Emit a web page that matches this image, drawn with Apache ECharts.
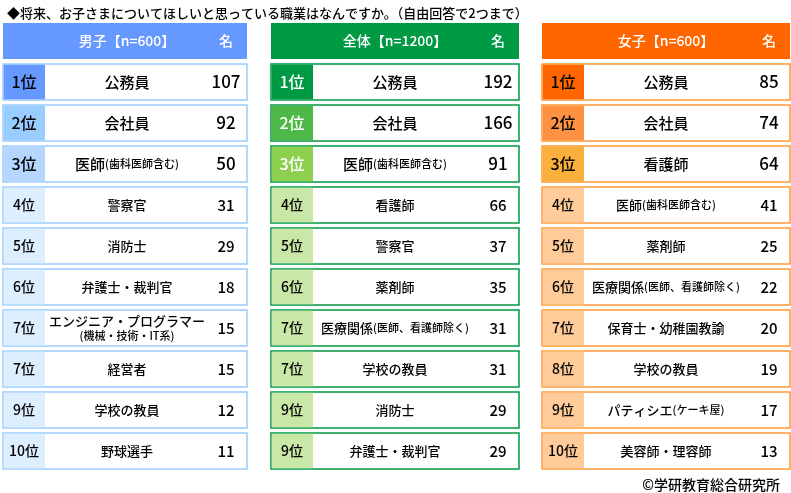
<!DOCTYPE html>
<html>
<head>
<meta charset="utf-8">
<script src="https://cdn.jsdelivr.net/npm/echarts@6/dist/echarts.min.js"></script>
<style>
html, body { margin: 0; padding: 0; background: #fff; }
#main { width: 791px; height: 493px; }
</style>
</head>
<body>
<div id="main"></div>
<script>
// table contents
var titleText = '◆将来、お子さまについてほしいと思っている職業はなんですか。（自由回答で2つまで）';
var creditText = '©学研教育総合研究所';
var unitLabel = '名';
var headers = ['男子【n=600】', '全体【n=1200】', '女子【n=600】'];

var boysRanks = ['1位', '2位', '3位', '4位', '5位', '6位', '7位', '7位', '9位', '10位'];
var boysJobs = ['公務員', '会社員', '医師(歯科医師含む)', '警察官', '消防士', '弁護士・裁判官',
    'エンジニア・プログラマー\n(機械・技術・IT系)', '経営者', '学校の教員', '野球選手'];
var boysCounts = [107, 92, 50, 31, 29, 18, 15, 15, 12, 11];

var totalRanks = ['1位', '2位', '3位', '4位', '5位', '6位', '7位', '7位', '9位', '9位'];
var totalJobs = ['公務員', '会社員', '医師(歯科医師含む)', '看護師', '警察官', '薬剤師',
    '医療関係(医師、看護師除く)', '学校の教員', '消防士', '弁護士・裁判官'];
var totalCounts = [192, 166, 91, 66, 37, 35, 31, 31, 29, 29];

var girlsRanks = ['1位', '2位', '3位', '4位', '5位', '6位', '7位', '8位', '9位', '10位'];
var girlsJobs = ['公務員', '会社員', '看護師', '医師(歯科医師含む)', '薬剤師',
    '医療関係(医師、看護師除く)', '保育士・幼稚園教諭', '学校の教員', 'パティシエ(ケーキ屋)', '美容師・理容師'];
var girlsCounts = [85, 74, 64, 41, 25, 22, 20, 19, 17, 13];

var FONT = '"Noto Sans CJK JP", "Noto Sans", sans-serif';
var W = 500;

// panel look
var panels = [
    {title: headers[0], ranks: boysRanks, jobs: boysJobs, counts: boysCounts,
     left: 3, width: 244, head: '#6699FF', border: '#99CCFF',
     cells: ['#6699FF', '#99CCFF', '#B5D6FF', '#DDEEFF'], rankColor: ['#000', '#000', '#000', '#000']},
    {title: headers[1], ranks: totalRanks, jobs: totalJobs, counts: totalCounts,
     left: 271, width: 248, head: '#009944', border: '#009944',
     cells: ['#009944', '#4DB848', '#8DCF4F', '#C9E7A7'], rankColor: ['#fff', '#fff', '#fff', '#000']},
    {title: headers[2], ranks: girlsRanks, jobs: girlsJobs, counts: girlsCounts,
     left: 542, width: 248, head: '#FF6600', border: '#FF9933',
     cells: ['#FF6600', '#FF9142', '#FBB03B', '#FFCC99'], rankColor: ['#000', '#000', '#000', '#000']}
];

// job name -> rich text, part in brackets is smaller
function jobText(s) {
    var k = s.indexOf('(');
    if (k < 0) return '{m|' + s + '}';
    var main = s.slice(0, k), sub = s.slice(k);
    if (main.charAt(main.length - 1) === '\n') {
        return '{m|' + main.slice(0, -1) + '}\n{s|' + sub + '}';
    }
    return '{m|' + main + '}{s|' + sub + '}';
}

function makeRender(p) {
    return function (params, api) {
        var row = api.value(1);
        var a = api.coord([0, row]);
        var b = api.coord([1, row]);
        var h = api.size([0, 1])[1] - 5;
        var x0 = a[0], x1 = b[0], cy = a[1], y0 = cy - h / 2;
        var rankR = x0 + 42;
        var jobX = rankR + 82;
        var valX = x1 - 21;

        if (row === 0) {
            return {type: 'group', children: [
                {type: 'rect', shape: {x: x0, y: y0, width: x1 - x0, height: h},
                 style: {fill: p.head}},
                {type: 'text', style: {text: p.title, x: jobX, y: cy, align: 'center', verticalAlign: 'middle',
                 fill: '#fff', fontSize: 14, fontWeight: W, fontFamily: FONT}},
                {type: 'text', style: {text: unitLabel, x: valX, y: cy, align: 'center', verticalAlign: 'middle',
                 fill: '#fff', fontSize: 14, fontWeight: W, fontFamily: FONT}}
            ]};
        }

        var i = row - 1;
        var top3 = i < 3;
        var ci = Math.min(i, 3);
        var twoLine = p.jobs[i].indexOf('\n') >= 0;
        return {type: 'group', children: [
            {type: 'rect', shape: {x: x0, y: y0, width: x1 - x0, height: h},
             style: {fill: '#fff', stroke: p.border, lineWidth: 1.5}},
            {type: 'rect', shape: {x: x0 + 0.75, y: y0 + 0.75, width: 41.25, height: h - 1.5},
             style: {fill: p.cells[ci]}},
            {type: 'text', style: {text: p.ranks[i], x: (x0 + rankR) / 2, y: cy, align: 'center', verticalAlign: 'middle',
             fill: p.rankColor[ci], fontSize: top3 ? 16 : 14, fontWeight: W, fontFamily: FONT}},
            {type: 'text', style: {text: jobText(p.jobs[i]), x: jobX, y: cy, align: 'center', verticalAlign: 'middle',
             fontFamily: FONT,
             rich: {
                 m: {fill: '#000', fontSize: top3 ? 15 : 13, fontWeight: W, fontFamily: FONT, lineHeight: twoLine ? 16 : 20},
                 s: {fill: '#000', fontSize: 11, fontWeight: W, fontFamily: FONT, lineHeight: twoLine ? 14 : 20}
             }}},
            {type: 'text', style: {text: String(p.counts[i]), x: valX, y: cy, align: 'center', verticalAlign: 'middle',
             fill: '#000', fontSize: top3 ? 17 : 15, fontWeight: W, fontFamily: FONT}}
        ]};
    };
}

var rowCats = ['head', '1', '2', '3', '4', '5', '6', '7', '8', '9', '10'];
var grids = [], xAxes = [], yAxes = [], series = [];
panels.forEach(function (p, k) {
    grids.push({left: p.left, width: p.width, top: 20.5, height: 451});
    xAxes.push({type: 'value', gridIndex: k, min: 0, max: 1, show: false});
    yAxes.push({type: 'category', gridIndex: k, data: rowCats, inverse: true, show: false});
    series.push({
        type: 'custom',
        xAxisIndex: k,
        yAxisIndex: k,
        renderItem: makeRender(p),
        encode: {x: 0, y: 1},
        data: rowCats.map(function (c, r) { return [0.5, r]; })
    });
});

var myChart = echarts.init(document.getElementById('main'));
var option = {
    animation: false,
    title: [
        {text: titleText, left: 2, top: 2,
         textStyle: {fontSize: 13, fontWeight: W, color: '#000', fontFamily: FONT}},
        {text: creditText, right: 6, top: 473,
         textStyle: {fontSize: 14, fontWeight: W, color: '#000', fontFamily: FONT}}
    ],
    grid: grids,
    xAxis: xAxes,
    yAxis: yAxes,
    series: series
};
myChart.setOption(option);
</script>
</body>
</html>
